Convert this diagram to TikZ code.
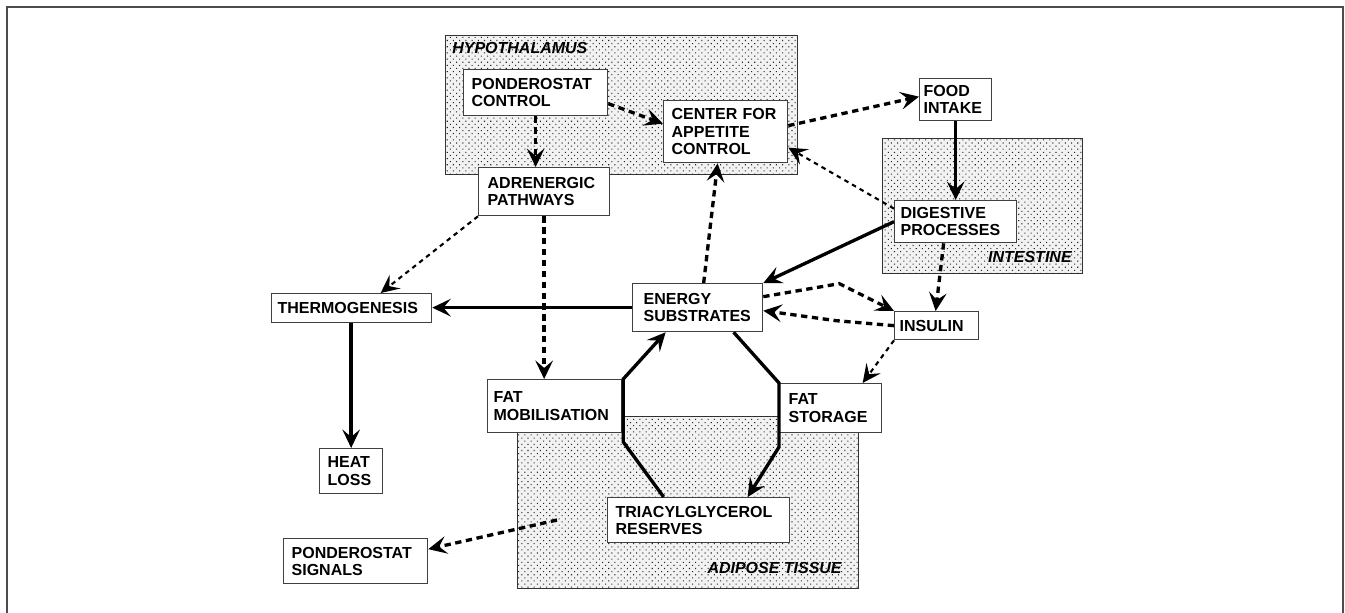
\documentclass[tikz,border=0pt]{standalone}
\usepackage{fontspec}
\setmainfont{Liberation Sans}
\usetikzlibrary{arrows.meta,calc,patterns.meta}
\newcommand\bxfont{\fontsize{9.1}{9.8}\selectfont\bfseries}
\newcommand\rgfont{\fontsize{9.1}{9.8}\selectfont\bfseries\itshape}
\begin{document}
\begin{tikzpicture}[x=0.02cm,y=-0.02cm,
  box/.style={draw=black!75, line width=0.75pt, fill=white, inner sep=0pt,
    anchor=north west, align=left, font=\bxfont},
  region/.style={draw=black!80, line width=0.75pt, fill=black!5, inner sep=0pt,
    anchor=north west,
    postaction={pattern color=black!85, pattern={Dots[distance=2.5pt,angle=45,radius=0.42pt]}}},
  rlabel/.style={font=\rgfont, inner sep=0pt},
  tipA/.tip={Stealth[length=10.5pt,width=10pt,inset=4.2pt]},
  conn/.style={line width=1.9pt, -tipA},
  kdash/.style={line width=1.9pt, dash pattern=on 3.6pt off 2.6pt, -tipA},
  tdash/.style={line width=1.2pt, dash pattern=on 2.6pt off 2.4pt, -tipA}]
\useasboundingbox (0,0) rectangle (1345,612);
\begin{scope}
  \clip (0,0) rectangle (1345,612);
  \draw[line width=1.2pt, black!70] (7,7) rectangle (1343,700);
\end{scope}

% regions
\node[region, minimum width=7.04cm, minimum height=2.78cm] (hypo) at (445,35) {};
\node[region, minimum width=4.00cm, minimum height=2.70cm] (intest) at (882,138) {};
\node[region, minimum width=6.82cm, minimum height=3.44cm] (adip) at (517,416) {};
\node[rlabel, anchor=west] (hypolab) at (452,48) {HYPOTHALAMUS};
\node[rlabel, anchor=east] (intlab) at (1072,257) {INTESTINE};
\node[rlabel, anchor=east] (adiplab) at (842,568) {ADIPOSE TISSUE};

% boxes
\node[box, minimum width=2.88cm, minimum height=0.92cm, text width=2.56cm] (pc) at (463,69) {PONDEROSTAT\\CONTROL};
\node[box, minimum width=2.48cm, minimum height=1.24cm, text width=2.16cm] (ca) at (663,100) {CENTER~FOR\\APPETITE\\CONTROL};
\node[box, minimum width=2.62cm, minimum height=0.96cm, text width=2.26cm] (ad) at (478,167) {ADRENERGIC\\PATHWAYS};
\node[box, minimum width=1.44cm, minimum height=0.84cm, text width=1.28cm] (fi) at (919,78) {FOOD\\INTAKE};
\node[box, minimum width=2.44cm, minimum height=0.84cm, text width=2.20cm] (dp) at (894,200) {DIGESTIVE\\PROCESSES};
\node[box, minimum width=2.60cm, minimum height=0.96cm, text width=2.16cm] (es) at (632,283) {ENERGY\\SUBSTRATES};
\node[box, minimum width=1.68cm, minimum height=0.56cm, text width=1.48cm] (in) at (894,311) {INSULIN};
\node[box, minimum width=3.20cm, minimum height=0.58cm, text width=2.96cm] (th) at (271,293) {THERMOGENESIS};
\node[box, minimum width=1.26cm, minimum height=0.90cm, text width=0.94cm] (hl) at (319,448) {HEAT\\LOSS};
\node[box, minimum width=2.68cm, minimum height=1.06cm, text width=2.44cm] (fm) at (487,379) {FAT\\MOBILISATION};
\node[box, minimum width=2.04cm, minimum height=0.98cm, text width=1.68cm] (fs) at (779,383) {FAT\\STORAGE};
\node[box, minimum width=3.64cm, minimum height=0.90cm, text width=3.32cm] (tg) at (607,497) {TRIACYLGLYCEROL\\RESERVES};
\node[box, minimum width=2.88cm, minimum height=0.90cm, text width=2.56cm] (ps) at (283,538) {PONDEROSTAT\\SIGNALS};

% connectors
\draw[kdash] (pc.south) -- (pc.south |- ad.north);
\draw[kdash] ($(pc.east)+(0,11)$) -- ($(ca.west)+(0,-8)$);
\draw[kdash] ($(ca.east)+(0,-6)$) -- ($(fi.west)+(0,-3)$);
\draw[conn] (fi.south) -- (fi.south |- dp.north);
\draw[tdash] ($(dp.west)+(0,-13)$) -- ($(ca.east)+(0,16)$);
\draw[conn] (dp.west) -- (es.north east);
\draw[kdash] ($(dp.south)+(-12,0)$) -- ($(in.north)+(-1,0)$);
\draw[kdash] ($(es.east)+(0,-11)$) -- ++(76,-13) -- (in.north west);
\draw[kdash] (in.west) -- ++(-58,-5) -- ($(es.east)+(0,3)$);
\draw[tdash] (in.south west) -- ($(fs.north)+(32,0)$);
\draw[conn] ($(es.south)+(36,0)$) -- (fs.north west) -- ++(0,64) -- ($(tg.north)+(49,0)$);
\draw[conn] ($(tg.north)+(-35,0)$) -- ($(fm.north east)+(1,63)$) -- ($(fm.north east)+(1,0)$) -- ($(es.south)+(-32,0)$);
\draw[conn] (es.west) -- (es.west -| th.east);
\draw[conn] (th.south -| hl.north) -- (hl.north);
\draw[tdash] (ad.south west) -- ($(th.north)+(29,0)$);
\draw[kdash] (ad.south) -- (ad.south |- fm.north);
\draw[kdash] ($(es.north)+(6,0)$) -- ($(ca.south)+(-8,0)$);
\coordinate (adsrc) at ($(adip.north west)+(40,104)$);
\draw[kdash] (adsrc) -- ($(ps.east)+(0,-12)$);
\end{tikzpicture}
\end{document}
